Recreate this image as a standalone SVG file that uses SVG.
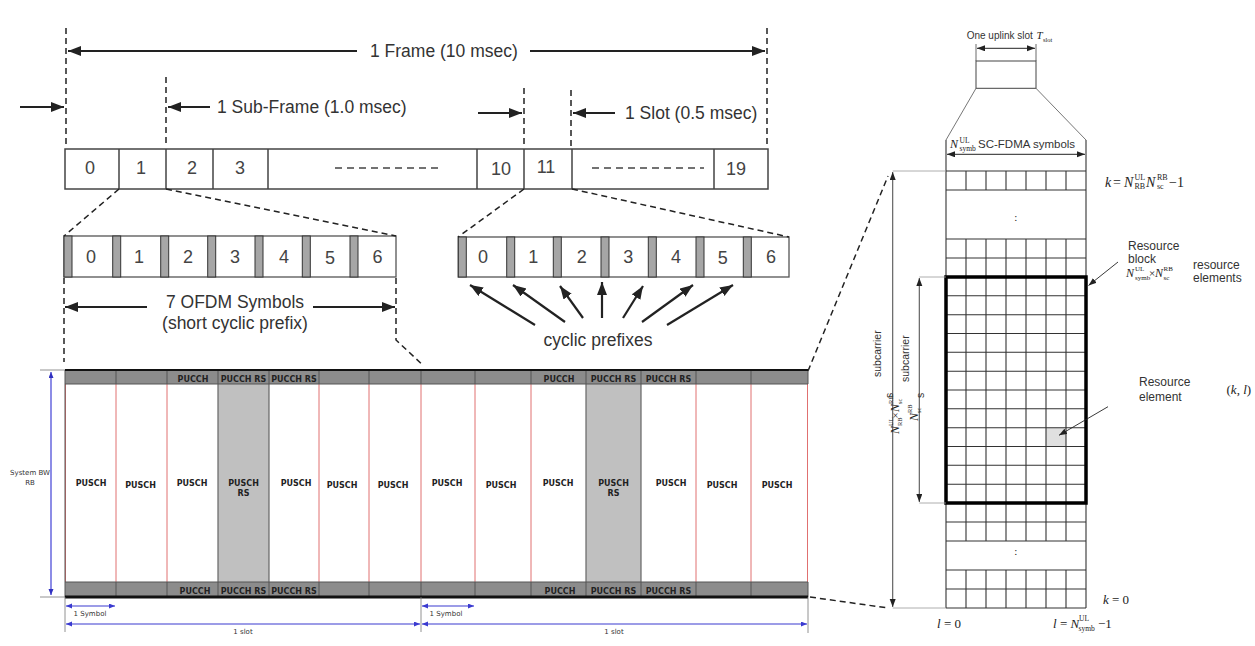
<svg xmlns="http://www.w3.org/2000/svg" width="1255" height="646" viewBox="0 0 1255 646">
<style>
.t{font-family:"Liberation Sans",Arial,sans-serif;fill:#333}
.big{font-size:17.5px}
.dig{font-size:18px;fill:#444;text-anchor:middle}
.sm{font-family:"DejaVu Sans",Verdana,sans-serif;font-size:7px;fill:#333}
.bl{font-family:"DejaVu Sans",Verdana,sans-serif;font-size:8px;font-weight:bold;fill:#222;text-anchor:middle}
.m{font-family:"Liberation Serif","Times New Roman",serif;fill:#222}
.i{font-style:italic}
.ar{stroke:#222;stroke-width:2.2;fill:none}
.dash{stroke:#222;stroke-width:1.5;stroke-dasharray:6 4;fill:none}
.cp{fill:#a6a6a6;stroke:#333;stroke-width:1}
.box{fill:#fff;stroke:#555;stroke-width:1.3}
.red{stroke:#e07070;stroke-width:1}
.gl{stroke:#333;stroke-width:1.1;fill:none}
.thin{stroke:#999;stroke-width:0.8;fill:none}
</style>
<defs>
<marker id="ah" markerUnits="userSpaceOnUse" markerWidth="14" markerHeight="11" refX="13" refY="5" orient="auto-start-reverse"><path d="M0,0 L13,5 L0,10 z" fill="#222"/></marker>
<marker id="as" markerUnits="userSpaceOnUse" markerWidth="9" markerHeight="7" refX="8" refY="3" orient="auto-start-reverse"><path d="M0,0 L8,3 L0,6 z" fill="#222"/></marker>
<marker id="ab" markerUnits="userSpaceOnUse" markerWidth="7" markerHeight="6" refX="6" refY="2.5" orient="auto-start-reverse"><path d="M0,0 L6,2.5 L0,5 z" fill="#3a3ad0"/></marker>
<marker id="av" markerUnits="userSpaceOnUse" markerWidth="7" markerHeight="6" refX="6" refY="2.5" orient="auto-start-reverse"><path d="M0,0 L6,2.5 L0,5 z" fill="#3030c0"/></marker>
</defs>

<g id="frame">
<rect x="65" y="149" width="703" height="40" fill="#fff" stroke="#444" stroke-width="1.5"/>
<path d="M119 149V189 M166 149V189 M213 149V189 M268 149V189 M477 149V189 M524 149V189 M572 149V189 M714 149V189" stroke="#444" stroke-width="1.5"/>
<text class="t dig" x="90" y="174">0</text>
<text class="t dig" x="141" y="174">1</text>
<text class="t dig" x="192" y="174">2</text>
<text class="t dig" x="240" y="174">3</text>
<text class="t dig" x="501" y="175">10</text>
<text class="t dig" x="546" y="173">11</text>
<text class="t dig" x="736" y="175">19</text>
<line x1="335" y1="168" x2="443" y2="168" stroke="#444" stroke-width="1.5" stroke-dasharray="7 5"/>
<line x1="592" y1="168" x2="704" y2="168" stroke="#444" stroke-width="1.5" stroke-dasharray="7 5"/>
</g>

<g id="frame-dims">
<path class="dash" d="M66 28V146 M767 28V146 M166 77V147 M524 88V147 M571 90V147"/>
<line class="ar" x1="357" y1="51" x2="68" y2="51" marker-end="url(#ah)"/>
<line class="ar" x1="530" y1="51" x2="765" y2="51" marker-end="url(#ah)"/>
<text class="t big" x="370" y="57">1 Frame (10 msec)</text>
<line class="ar" x1="20" y1="107" x2="64" y2="107" marker-end="url(#ah)"/>
<line class="ar" x1="210" y1="107" x2="168" y2="107" marker-end="url(#ah)"/>
<text class="t big" x="217" y="113">1 Sub-Frame (1.0 msec)</text>
<line class="ar" x1="478" y1="113" x2="522" y2="113" marker-end="url(#ah)"/>
<line class="ar" x1="615" y1="113" x2="573" y2="113" marker-end="url(#ah)"/>
<text class="t big" x="625" y="119">1 Slot (0.5 msec)</text>
</g>

<g id="ofdm-left">
<rect class="box" x="64" y="236" width="332" height="41"/>
<rect class="cp" x="64" y="236" width="8" height="41"/>
<rect class="cp" x="112.7" y="236" width="8" height="41"/>
<rect class="cp" x="160.7" y="236" width="8" height="41"/>
<rect class="cp" x="207.7" y="236" width="8" height="41"/>
<rect class="cp" x="255" y="236" width="8" height="41"/>
<rect class="cp" x="302.3" y="236" width="8" height="41"/>
<rect class="cp" x="350" y="236" width="8" height="41"/>
<text class="t dig" x="91" y="263">0</text>
<text class="t dig" x="139" y="263">1</text>
<text class="t dig" x="188" y="263">2</text>
<text class="t dig" x="235" y="263">3</text>
<text class="t dig" x="284" y="263">4</text>
<text class="t dig" x="330" y="264">5</text>
<text class="t dig" x="377.5" y="263">6</text>
<line class="ar" x1="147" y1="307" x2="65" y2="307" marker-end="url(#ah)"/>
<line class="ar" x1="313" y1="307" x2="395" y2="307" marker-end="url(#ah)"/>
<text class="t big" x="235" y="308" text-anchor="middle">7 OFDM Symbols</text>
<text class="t big" x="235" y="329" text-anchor="middle">(short cyclic prefix)</text>
</g>

<g id="ofdm-right">
<rect class="box" x="458.3" y="237" width="330.7" height="40"/>
<rect class="cp" x="458.3" y="237" width="8" height="40"/>
<rect class="cp" x="506.7" y="237" width="8" height="40"/>
<rect class="cp" x="553.3" y="237" width="8" height="40"/>
<rect class="cp" x="601" y="237" width="8" height="40"/>
<rect class="cp" x="648.3" y="237" width="8" height="40"/>
<rect class="cp" x="696" y="237" width="8" height="40"/>
<rect class="cp" x="743.3" y="237" width="8" height="40"/>
<text class="t dig" x="483" y="263">0</text>
<text class="t dig" x="533.3" y="263">1</text>
<text class="t dig" x="581.7" y="263">2</text>
<text class="t dig" x="628.3" y="263">3</text>
<text class="t dig" x="676" y="263">4</text>
<text class="t dig" x="722.7" y="264">5</text>
<text class="t dig" x="771" y="263">6</text>
<text class="t big" x="598" y="346" text-anchor="middle">cyclic prefixes</text>
</g>

<g id="connectors">
<path class="dash" d="M119 189L64 236 M166 189L396 236 M524 189L458 237 M572 189L789 237"/>
<path class="dash" d="M64 278V362 M396 278V340L421.7 364"/>
<path class="dash" d="M808 371L888 176 M810 597L888 608"/>
<line class="ar" x1="535" y1="325" x2="470" y2="285" stroke-width="2.4" marker-end="url(#ah)"/>
<line class="ar" x1="565" y1="322" x2="513" y2="285" stroke-width="2.4" marker-end="url(#ah)"/>
<line class="ar" x1="583" y1="318" x2="560" y2="286" stroke-width="2.4" marker-end="url(#ah)"/>
<line class="ar" x1="602" y1="318" x2="602" y2="282" stroke-width="2.4" marker-end="url(#ah)"/>
<line class="ar" x1="623" y1="318" x2="643" y2="286" stroke-width="2.4" marker-end="url(#ah)"/>
<line class="ar" x1="642" y1="322" x2="693" y2="285" stroke-width="2.4" marker-end="url(#ah)"/>
<line class="ar" x1="667" y1="325" x2="733" y2="285" stroke-width="2.4" marker-end="url(#ah)"/>
</g>

<g id="slot-grid">
<rect x="65" y="384" width="743" height="198" fill="#fff"/>
<rect x="218" y="384" width="51" height="198" fill="#c0c0c0"/>
<rect x="586" y="384" width="55" height="198" fill="#c0c0c0"/>
<rect x="65" y="370" width="743" height="14" fill="#8c8c8c"/>
<rect x="65" y="582" width="743" height="14.5" fill="#8c8c8c"/>
<path class="red" d="M65.5 384V582 M116 384V582 M167 384V582 M319 384V582 M369 384V582 M421 384V582 M475 384V582 M531 384V582 M696 384V582 M751 384V582 M807.5 384V582"/>
<path d="M218 384V582 M269 384V582 M586 384V582 M641 384V582" stroke="#666" stroke-width="1.2"/>
<path d="M65 370V597 M116 370V384 M167 370V384 M218 370V384 M269 370V384 M319 370V384 M369 370V384 M421 370V384 M475 370V384 M531 370V384 M586 370V384 M641 370V384 M696 370V384 M751 370V384 M808 370V384 M116 582V597 M167 582V597 M218 582V597 M269 582V597 M319 582V597 M369 582V597 M421 582V597 M475 582V597 M531 582V597 M586 582V597 M641 582V597 M696 582V597 M751 582V597 M808 582V597 M65 384H808 M65 582H808" stroke="#555" stroke-width="1"/>
<path d="M65 370H808" stroke="#111" stroke-width="2.2"/>
<path d="M65 597H808" stroke="#111" stroke-width="3"/>
<text class="bl" x="193" y="382">PUCCH</text>
<text class="bl" x="243.5" y="382">PUCCH RS</text>
<text class="bl" x="294" y="382">PUCCH RS</text>
<text class="bl" x="559" y="382">PUCCH</text>
<text class="bl" x="613.5" y="382">PUCCH RS</text>
<text class="bl" x="668.5" y="382">PUCCH RS</text>
<text class="bl" x="195" y="593.5">PUCCH</text>
<text class="bl" x="243.5" y="593.5">PUCCH RS</text>
<text class="bl" x="294" y="593.5">PUCCH RS</text>
<text class="bl" x="560" y="593.5">PUCCH</text>
<text class="bl" x="613.5" y="593.5">PUCCH RS</text>
<text class="bl" x="668.5" y="593.5">PUCCH RS</text>
<text class="bl" x="91" y="486">PUSCH</text>
<text class="bl" x="140.5" y="487.5">PUSCH</text>
<text class="bl" x="192" y="486">PUSCH</text>
<text class="bl" x="243.5" y="485.5">PUSCH</text>
<text class="bl" x="243.5" y="496">RS</text>
<text class="bl" x="296" y="486">PUSCH</text>
<text class="bl" x="342" y="487.5">PUSCH</text>
<text class="bl" x="393" y="487.5">PUSCH</text>
<text class="bl" x="447" y="486">PUSCH</text>
<text class="bl" x="501" y="487.5">PUSCH</text>
<text class="bl" x="558" y="486">PUSCH</text>
<text class="bl" x="613.5" y="485.5">PUSCH</text>
<text class="bl" x="613.5" y="496">RS</text>
<text class="bl" x="671" y="486">PUSCH</text>
<text class="bl" x="722" y="487.5">PUSCH</text>
<text class="bl" x="777" y="487.5">PUSCH</text>
</g>

<g id="slot-dims">
<path d="M40 370H65 M40 597H65 M65 597V632 M421 597V632 M808 597V633" stroke="#777" stroke-width="0.8"/>
<line x1="51" y1="372" x2="51" y2="595" stroke="#7070e0" stroke-width="1.6" marker-start="url(#av)" marker-end="url(#av)"/>
<text class="sm" x="30" y="475" text-anchor="middle">System BW</text>
<text class="sm" x="30" y="485" text-anchor="middle">RB</text>
<line x1="66" y1="606" x2="115" y2="606" stroke="#3a3ad0" stroke-width="1.2" marker-start="url(#ab)" marker-end="url(#ab)"/>
<line x1="422" y1="606" x2="474" y2="606" stroke="#3a3ad0" stroke-width="1.2" marker-start="url(#ab)" marker-end="url(#ab)"/>
<line x1="66" y1="624" x2="420" y2="624" stroke="#3a3ad0" stroke-width="1.2" marker-start="url(#ab)" marker-end="url(#ab)"/>
<line x1="422" y1="624" x2="807" y2="624" stroke="#3a3ad0" stroke-width="1.2" marker-start="url(#ab)" marker-end="url(#ab)"/>
<text class="sm" x="90" y="616" text-anchor="middle">1 Symbol</text>
<text class="sm" x="446" y="616" text-anchor="middle">1 Symbol</text>
<text class="sm" x="243" y="634" text-anchor="middle">1 slot</text>
<text class="sm" x="614" y="634" text-anchor="middle">1 slot</text>
</g>

<g id="uplink-slot">
<text class="t" x="966.7" y="39" font-size="10px">One uplink slot</text>
<text class="m i" x="1036.5" y="39" font-size="11px">T</text>
<text class="m" x="1043" y="41.5" font-size="6.5px">slot</text>
<path d="M976 44V61 M1036 44V61" stroke="#444" stroke-width="0.8"/>
<line x1="977" y1="48.3" x2="1035" y2="48.3" stroke="#222" stroke-width="1" marker-start="url(#as)" marker-end="url(#as)"/>
<rect x="976" y="61" width="60" height="27.3" fill="#fff" stroke="#444" stroke-width="1"/>
<path d="M976 88.3L946 140 M1036 88.3L1086 140" stroke="#666" stroke-width="0.9" fill="none"/>
<text class="m i" x="950" y="148" font-size="12px">N</text>
<text class="m" x="959.5" y="143" font-size="7.5px">UL</text>
<text class="m" x="959.5" y="150.5" font-size="7.5px">symb</text>
<text class="t" x="978" y="148" font-size="11.5px">SC-FDMA symbols</text>
<line x1="947" y1="154.3" x2="1085" y2="154.3" stroke="#222" stroke-width="1" marker-start="url(#as)" marker-end="url(#as)"/>
</g>

<g id="resource-grid">
<rect x="1046" y="427.7" width="20" height="18.8" fill="#e0e0e0"/>
<path class="gl" d="M946 140V608 M1086 140V608"/>
<path class="gl" d="M946 171H1086 M946 190H1086 M946 239H1086 M946 258H1086 M946 295.8H1086 M946 314.7H1086 M946 333.5H1086 M946 352.3H1086 M946 371.2H1086 M946 390H1086 M946 408.8H1086 M946 427.7H1086 M946 446.5H1086 M946 465.3H1086 M946 484.2H1086 M946 522H1086 M946 541H1086 M946 570H1086 M946 589H1086 M946 608H1086"/>
<path class="gl" d="M966 171V190 M986 171V190 M1006 171V190 M1026 171V190 M1046 171V190 M1066 171V190 M966 239V541 M986 239V541 M1006 239V541 M1026 239V541 M1046 239V541 M1066 239V541 M966 570V608 M986 570V608 M1006 570V608 M1026 570V608 M1046 570V608 M1066 570V608"/>
<rect x="946" y="277" width="140" height="226" fill="none" stroke="#000" stroke-width="3.5"/>
<text class="m" x="1015.7" y="221" font-size="11px" text-anchor="middle" fill="#555">:</text>
<text class="m" x="1015.7" y="555" font-size="11px" text-anchor="middle" fill="#555">:</text>
</g>

<g id="grid-dims">
<path class="thin" d="M892.7 171H946 M892.7 608H946 M919.3 277H946 M919.3 503H946"/>
<line x1="892.7" y1="172" x2="892.7" y2="607" stroke="#555" stroke-width="1.1" marker-start="url(#as)" marker-end="url(#as)"/>
<line x1="919.3" y1="278" x2="919.3" y2="502" stroke="#555" stroke-width="1.1" marker-start="url(#as)" marker-end="url(#as)"/>
<text class="m i" transform="translate(899,434) rotate(-90)" font-size="12px">N</text>
<text class="m" transform="translate(893,426) rotate(-90)" font-size="6.5px">UL</text>
<text class="m" transform="translate(902,426) rotate(-90)" font-size="6.5px">RB</text>
<text class="m" transform="translate(899,418.5) rotate(-90)" font-size="11px">×</text>
<text class="m i" transform="translate(899,412) rotate(-90)" font-size="12px">N</text>
<text class="m" transform="translate(893,404) rotate(-90)" font-size="6.5px">RB</text>
<text class="m" transform="translate(902,404) rotate(-90)" font-size="6.5px">sc</text>
<text class="t" transform="translate(881,377) rotate(-90)" font-size="10.5px">subcarrier</text>
<text class="t" transform="translate(893,398) rotate(-90)" font-size="10.5px">s</text>
<text class="m i" transform="translate(918,421) rotate(-90)" font-size="12px">N</text>
<text class="m" transform="translate(912,413) rotate(-90)" font-size="6.5px">RB</text>
<text class="m" transform="translate(921,413) rotate(-90)" font-size="6.5px">sc</text>
<text class="t" transform="translate(909,382) rotate(-90)" font-size="10.5px">subcarrier</text>
<text class="t" transform="translate(924,398) rotate(-90)" font-size="10.5px">s</text>
</g>

<g id="labels">
<text class="m i" x="1105" y="186.5" font-size="14px">k</text>
<text class="m" x="1113" y="186.5" font-size="14px">=</text>
<text class="m i" x="1124" y="186.5" font-size="14px">N</text>
<text class="m" x="1134.5" y="180" font-size="8px">UL</text>
<text class="m" x="1134.5" y="189" font-size="8px">RB</text>
<text class="m i" x="1146" y="186.5" font-size="14px">N</text>
<text class="m" x="1157" y="180" font-size="8px">RB</text>
<text class="m" x="1157" y="189" font-size="8px">sc</text>
<text class="m" x="1169" y="186.5" font-size="14px">−1</text>

<text class="t" x="1128" y="250" font-size="12px">Resource</text>
<text class="t" x="1128" y="262.5" font-size="12px">block</text>
<line x1="1118" y1="262" x2="1088.5" y2="285.5" stroke="#222" stroke-width="0.9" marker-end="url(#as)"/>
<text class="m i" x="1126" y="277" font-size="12px">N</text>
<text class="m" x="1135" y="271" font-size="7px">UL</text>
<text class="m" x="1135" y="279.5" font-size="7px">symb</text>
<text class="m" x="1149" y="277" font-size="11px">×</text>
<text class="m i" x="1155" y="277" font-size="12px">N</text>
<text class="m" x="1163.5" y="271" font-size="7px">RB</text>
<text class="m" x="1163.5" y="279.5" font-size="7px">sc</text>
<text class="t" x="1193" y="268.5" font-size="12px">resource</text>
<text class="t" x="1193" y="282" font-size="12px">elements</text>

<text class="t" x="1139" y="386" font-size="12px">Resource</text>
<text class="t" x="1139" y="401" font-size="12px">element</text>
<line x1="1108" y1="406.7" x2="1059" y2="435.3" stroke="#222" stroke-width="0.9" marker-end="url(#as)"/>
<text class="m" x="1226.5" y="394" font-size="13px">(<tspan font-style="italic">k</tspan>, <tspan font-style="italic">l</tspan>)</text>

<text class="m" x="1103" y="603.5" font-size="13px"><tspan font-style="italic">k</tspan> = 0</text>
<text class="m" x="937" y="628" font-size="13px"><tspan font-style="italic">l</tspan> = 0</text>
<text class="m" x="1053" y="628" font-size="13px"><tspan font-style="italic">l</tspan> = <tspan font-style="italic">N</tspan></text>
<text class="m" x="1079" y="621" font-size="7.5px">UL</text>
<text class="m" x="1078.5" y="631" font-size="7.5px">symb</text>
<text class="m" x="1098" y="628" font-size="13px">−1</text>
</g>
</svg>
